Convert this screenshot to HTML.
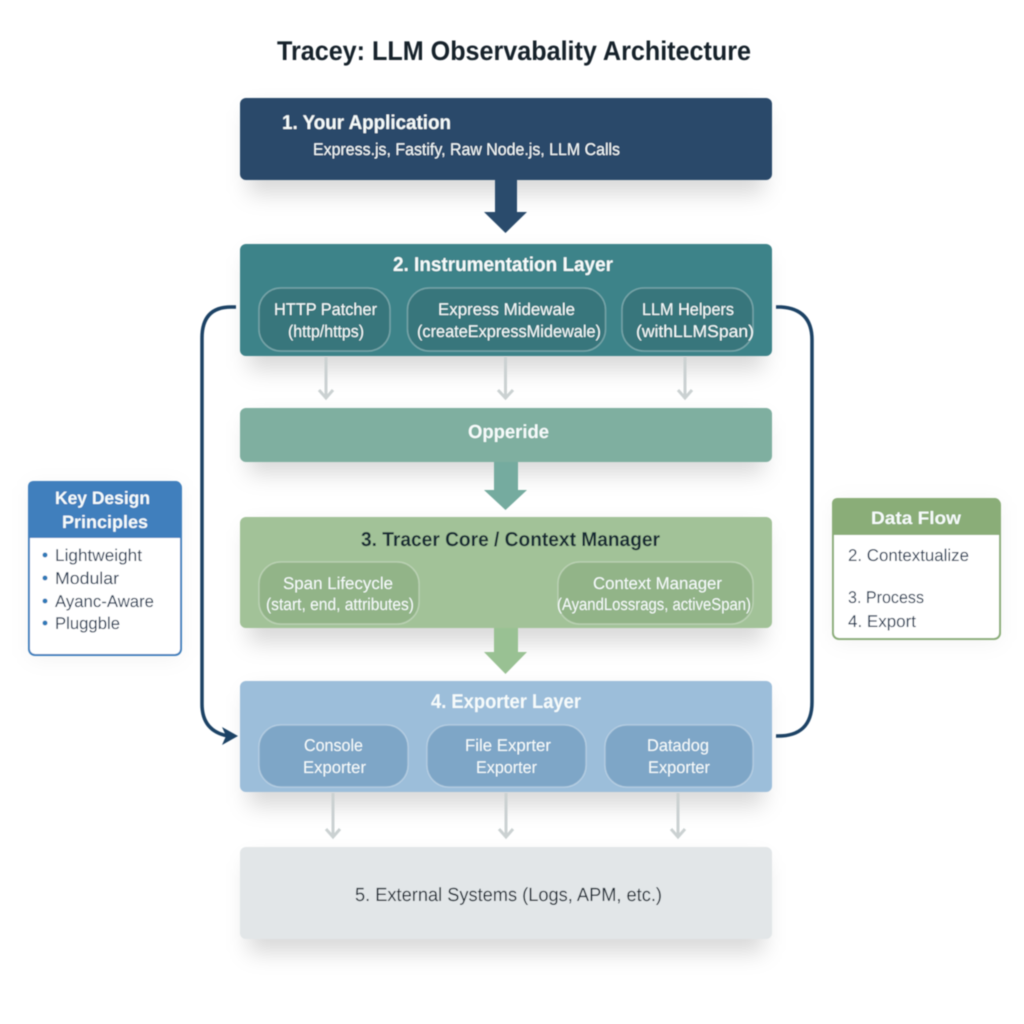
<!DOCTYPE html>
<html><head><meta charset="utf-8"><style>
html,body{margin:0;padding:0;background:#fff}
svg{display:block}
text{font-family:"Liberation Sans",sans-serif;text-rendering:geometricPrecision}
.w{fill:#f6fbfb}
.sub{fill:none;stroke:#fff;stroke-opacity:.3;stroke-width:1.5}
</style></head><body>
<svg width="1024" height="1024" viewBox="0 0 1024 1024" xmlns="http://www.w3.org/2000/svg">
<defs>
<filter id="s" x="-15%" y="-50%" width="130%" height="220%"><feGaussianBlur stdDeviation="11"/></filter>
<filter id="b"><feGaussianBlur stdDeviation="0.45"/></filter>
</defs>
<rect width="1024" height="1024" fill="#fff"/>
<g fill="#000" fill-opacity=".15" filter="url(#s)">
<rect x="248" y="110" width="516" height="84" rx="6"/>
<rect x="248" y="256" width="516" height="114" rx="6"/>
<rect x="248" y="420" width="516" height="54" rx="6"/>
<rect x="248" y="529" width="516" height="114" rx="6"/>
<rect x="248" y="693" width="516" height="113" rx="6"/>
<rect x="248" y="861" width="516" height="92" rx="6"/>
</g>
<g fill="#000" fill-opacity=".05" filter="url(#s)">
<rect x="30" y="486" width="150" height="172" rx="6"/>
<rect x="834" y="502" width="165" height="140" rx="6"/>
</g>
<g filter="url(#b)">
<path d="M495 180H517V212H527L505.500 233L484 212H495Z" fill="#2b4c6c"/>
<path d="M494 462H518V490H527L505.500 510L484 490H494Z" fill="#75ab9f"/>
<path d="M494 628H518V652H527L505.500 674L484 652H494Z" fill="#99c193"/>
<rect x="240" y="98" width="532" height="82" rx="6" fill="#2a4a6a"/>
<rect x="240" y="244" width="532" height="112" rx="6" fill="#3d8389"/>
<rect x="240" y="408" width="532" height="54" rx="6" fill="#7fafa0"/>
<rect x="240" y="517" width="532" height="111" rx="6" fill="#a2c298"/>
<rect x="240" y="681" width="532" height="111" rx="6" fill="#9cbeda"/>
<rect x="240" y="847" width="532" height="92" rx="6" fill="#e2e6e8"/>
<rect class="sub" x="259" y="288" width="131" height="63" rx="22" style="fill:#367379;fill-opacity:.8"/>
<rect class="sub" x="407.500" y="288" width="198" height="63" rx="22" style="fill:#367379;fill-opacity:.8"/>
<rect class="sub" x="622" y="288" width="131" height="63" rx="22" style="fill:#367379;fill-opacity:.8"/>
<rect class="sub" x="259" y="562" width="160" height="62" rx="22" style="fill:#8fb185;fill-opacity:.85"/>
<rect class="sub" x="558" y="562" width="195" height="62" rx="22" style="fill:#8fb185;fill-opacity:.85"/>
<rect class="sub" x="259" y="725" width="149" height="62" rx="22" style="fill:#7ea6c7"/>
<rect class="sub" x="427" y="725" width="159" height="62" rx="22" style="fill:#7ea6c7"/>
<rect class="sub" x="605" y="725" width="148" height="62" rx="22" style="fill:#7ea6c7"/>
<g fill="none" stroke="#cbd1d2" stroke-width="3">
<path d="M326 357V398M319 390L326 398L333 390"/>
<path d="M505.500 357V398M498 390L505.500 398L513 390"/>
<path d="M685 357V398M678 390L685 398L692 390"/>
<path d="M333 793V837M326 829L333 837L340 829"/>
<path d="M506 793V837M499 829L506 837L513 829"/>
<path d="M678 793V837M671 829L678 837L685 829"/>
</g>
<g fill="none" stroke="#1f4265" stroke-width="3.500">
<path d="M236 307H231Q202 307 202 338V704Q202 731 228 736"/>
<path d="M776 307H781Q812 309 812 340V702Q812 737 776 736"/>
</g>
<path d="M238 736L222 727L226 736L222 745Z" fill="#1f4265"/>
<rect x="29" y="482" width="152" height="173" rx="6" fill="#fff" stroke="#3f80bd" stroke-width="2"/>
<path d="M28 538V487Q28 481 34 481H175Q181 481 181 487V538Z" fill="#3f7fbd"/>
<rect x="833" y="499" width="167" height="140" rx="6" fill="#fff" stroke="#8aad78" stroke-width="2"/>
<path d="M832 535V504Q832 498 838 498H994Q1000 498 1000 504V535Z" fill="#8aad78"/>
<g fill="#2f7ab8">
<circle cx="45" cy="555" r="2.500"/><circle cx="45" cy="578" r="2.500"/><circle cx="45" cy="601" r="2.500"/><circle cx="45" cy="623" r="2.500"/>
</g>
<text x="277" y="60" font-size="27" font-weight="700" fill="#14202c" textLength="474" lengthAdjust="spacingAndGlyphs">Tracey: LLM Observabality Architecture</text>
<text class="w" x="282" y="129" font-size="20" font-weight="700" textLength="169" lengthAdjust="spacingAndGlyphs">1. Your Application</text>
<text class="w" x="313" y="155" font-size="17" textLength="307" lengthAdjust="spacingAndGlyphs">Express.js, Fastify, Raw Node.js, LLM Calls</text>
<text class="w" x="393" y="271" font-size="20" font-weight="700" textLength="220" lengthAdjust="spacingAndGlyphs">2. Instrumentation Layer</text>
<text class="w" x="274" y="315" font-size="17" textLength="103" lengthAdjust="spacingAndGlyphs">HTTP Patcher</text>
<text class="w" x="288" y="337" font-size="17" textLength="76" lengthAdjust="spacingAndGlyphs">(http/https)</text>
<text class="w" x="438" y="315" font-size="17" textLength="137" lengthAdjust="spacingAndGlyphs">Express Midewale</text>
<text class="w" x="417" y="337" font-size="17" textLength="184" lengthAdjust="spacingAndGlyphs">(createExpressMidewale)</text>
<text class="w" x="642" y="315" font-size="17" textLength="92" lengthAdjust="spacingAndGlyphs">LLM Helpers</text>
<text class="w" x="636" y="337" font-size="17" textLength="118" lengthAdjust="spacingAndGlyphs">(withLLMSpan)</text>
<text class="w" x="468" y="438" font-size="19" font-weight="700" textLength="81" lengthAdjust="spacingAndGlyphs">Opperide</text>
<text x="361" y="546" font-size="20" font-weight="700" fill="#142c34" textLength="299" lengthAdjust="spacingAndGlyphs">3. Tracer Core / Context Manager</text>
<text class="w" x="283" y="589" font-size="17" textLength="110" lengthAdjust="spacingAndGlyphs">Span Lifecycle</text>
<text class="w" x="266" y="610" font-size="17" textLength="148" lengthAdjust="spacingAndGlyphs">(start, end, attributes)</text>
<text class="w" x="593" y="589" font-size="17" textLength="129" lengthAdjust="spacingAndGlyphs">Context Manager</text>
<text class="w" x="557" y="610" font-size="17" textLength="194" lengthAdjust="spacingAndGlyphs">(AyandLossrags, activeSpan)</text>
<text class="w" x="431" y="708" font-size="20" font-weight="700" textLength="150" lengthAdjust="spacingAndGlyphs">4. Exporter Layer</text>
<text class="w" x="304" y="751" font-size="17" textLength="59" lengthAdjust="spacingAndGlyphs">Console</text>
<text class="w" x="303" y="773" font-size="17" textLength="63" lengthAdjust="spacingAndGlyphs">Exporter</text>
<text class="w" x="465" y="751" font-size="17" textLength="86" lengthAdjust="spacingAndGlyphs">File Exprter</text>
<text class="w" x="476" y="773" font-size="17" textLength="61" lengthAdjust="spacingAndGlyphs">Exporter</text>
<text class="w" x="647" y="751" font-size="17" textLength="62" lengthAdjust="spacingAndGlyphs">Datadog</text>
<text class="w" x="648" y="773" font-size="17" textLength="62" lengthAdjust="spacingAndGlyphs">Exporter</text>
<text x="355" y="901" font-size="19" fill="#14242f" textLength="307" lengthAdjust="spacingAndGlyphs">5. External Systems (Logs, APM, etc.)</text>
<text class="w" x="55" y="504" font-size="18" font-weight="700" textLength="95" lengthAdjust="spacingAndGlyphs">Key Design</text>
<text class="w" x="62" y="528" font-size="18" font-weight="700" textLength="86" lengthAdjust="spacingAndGlyphs">Principles</text>
<g fill="#1f3650" font-size="17">
<text x="55" y="561" textLength="87" lengthAdjust="spacingAndGlyphs">Lightweight</text>
<text x="55" y="584" textLength="64" lengthAdjust="spacingAndGlyphs">Modular</text>
<text x="55" y="607" textLength="99" lengthAdjust="spacingAndGlyphs">Ayanc-Aware</text>
<text x="55" y="629" textLength="65" lengthAdjust="spacingAndGlyphs">Pluggble</text>
<text x="848" y="561" textLength="121" lengthAdjust="spacingAndGlyphs">2. Contextualize</text>
<text x="848" y="603" textLength="76" lengthAdjust="spacingAndGlyphs">3. Process</text>
<text x="848" y="627" textLength="68" lengthAdjust="spacingAndGlyphs">4. Export</text>
</g>
<text class="w" x="871" y="524" font-size="18" font-weight="700" textLength="90" lengthAdjust="spacingAndGlyphs">Data Flow</text>
</g>
</svg>
</body></html>
